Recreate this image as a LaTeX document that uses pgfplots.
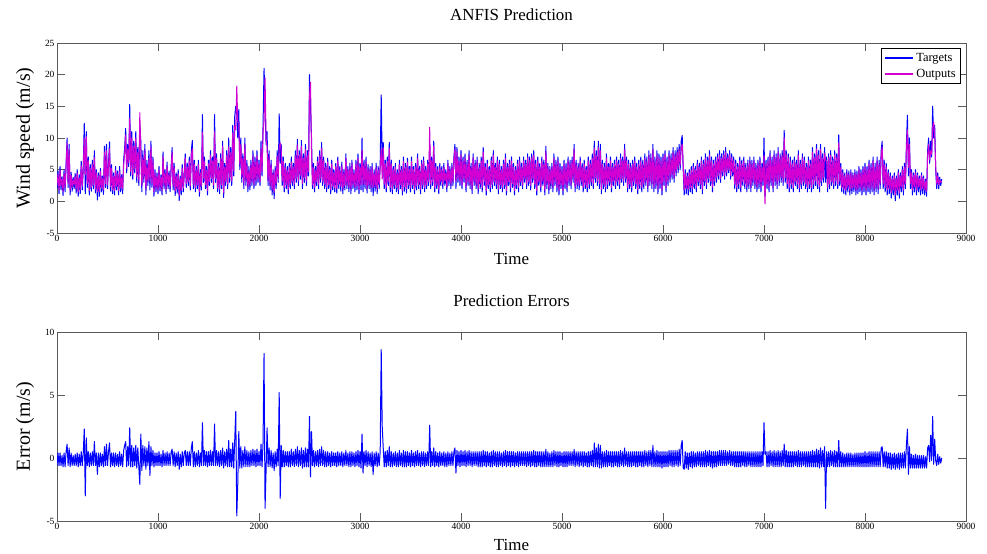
\documentclass[border=0pt]{standalone}
\usepackage{fontspec}
\setmainfont{Liberation Serif}
\usepackage{pgfplots}
\usepackage{pgfplotstable}
\pgfplotsset{compat=1.18}
\pgfplotstableread{
x T O E
0 2.0 2.6 -0.6
10 4.8 4.2 0.4
20 1.2 1.8 -0.6
30 5.5 4.9 0.4
40 1.8 2.4 -0.6
50 3.9 3.5 0.2
60 0.9 1.6 -0.7
70 5.0 4.4 0.4
80 1.5 2.2 -0.7
90 6.0 5.4 0.5
100 10.0 9.2 1.1
110 2.2 2.8 -0.6
120 9.0 8.2 0.8
130 1.0 1.7 -0.7
140 4.6 4.1 0.4
150 1.6 2.2 -0.6
160 3.8 3.4 0.2
170 2.0 2.6 -0.6
180 4.4 3.9 0.3
190 1.3 1.9 -0.6
200 5.0 4.5 0.4
210 0.8 1.5 -0.7
220 4.2 3.7 0.3
230 1.2 1.8 -0.6
240 6.3 5.6 0.5
250 1.8 2.4 -0.6
260 5.5 4.9 0.4
270 12.3 10.0 2.3
280 1.2 4.2 -3.0
290 11.0 10.2 1.6
300 2.2 2.8 -0.6
310 7.0 6.4 0.5
320 1.0 1.7 -0.7
330 5.8 5.2 0.4
340 1.6 2.2 -0.6
350 6.5 5.9 0.5
360 2.0 2.6 -0.6
370 8.0 6.9 1.3
380 1.3 1.9 -0.6
390 5.0 4.5 0.4
400 0.2 1.5 -1.3
410 4.5 4.0 0.4
420 0.8 1.5 -0.7
430 5.2 4.7 0.4
440 1.5 2.1 -0.6
450 4.0 3.6 0.3
460 1.1 1.8 -0.7
470 8.7 7.8 0.9
480 2.2 2.8 -0.6
490 9.0 8.0 1.1
500 2.0 2.6 -0.6
510 6.0 5.4 0.5
520 9.4 8.3 1.2
530 1.6 2.3 -0.7
540 5.8 5.2 0.4
550 1.2 1.8 -0.6
560 4.5 4.0 0.4
570 1.0 1.7 -0.7
580 5.5 4.9 0.4
590 1.8 2.4 -0.6
600 4.8 4.3 0.3
610 1.0 1.7 -0.7
620 5.5 4.8 0.5
630 1.5 2.1 -0.6
640 4.2 3.8 0.3
650 1.2 1.9 -0.7
660 6.5 5.8 0.6
670 8.5 7.5 1.0
680 11.5 10.4 1.3
690 4.5 5.2 -0.7
700 9.0 8.2 0.9
710 5.5 6.1 -0.6
720 15.3 13.1 2.4
730 4.0 4.7 -0.7
740 11.0 10.0 1.0
750 3.5 4.2 -0.7
760 9.5 8.7 0.8
770 4.5 5.1 -0.6
780 11.0 10.0 1.0
790 3.0 3.8 -0.8
800 8.5 7.7 0.8
810 2.5 3.2 -0.7
820 12.0 14.0 -2.1
830 9.5 7.6 1.9
840 1.5 2.5 -1.0
850 8.0 7.0 1.0
860 3.0 3.6 -0.6
870 9.0 8.1 0.9
880 1.0 1.9 -0.9
890 6.5 5.7 0.8
900 2.5 3.1 -0.6
910 8.0 6.8 1.3
920 1.8 3.2 -1.4
930 9.5 8.6 0.9
940 2.2 2.8 -0.6
950 7.0 6.4 0.6
960 0.8 1.5 -0.7
970 5.0 4.5 0.4
980 1.5 2.1 -0.6
990 4.5 4.0 0.4
1000 1.2 1.8 -0.6
1010 5.5 4.9 0.5
1020 1.6 2.2 -0.6
1030 4.2 3.8 0.3
1040 1.0 1.7 -0.7
1050 7.8 7.1 0.6
1060 2.0 2.6 -0.6
1070 5.0 4.5 0.4
1080 1.2 1.8 -0.6
1090 6.2 5.6 0.5
1100 2.0 2.6 -0.6
1110 4.8 4.3 0.4
1120 1.5 2.1 -0.6
1130 5.5 4.9 0.5
1140 8.5 7.8 0.7
1150 1.8 2.4 -0.6
1160 6.0 5.4 0.5
1170 0.9 1.6 -0.7
1180 4.5 4.0 0.4
1190 1.3 1.9 -0.6
1200 5.0 4.4 0.5
1210 0.1 0.9 -0.9
1220 4.0 3.6 0.3
1230 1.0 1.7 -0.7
1240 5.8 5.2 0.5
1250 1.5 2.1 -0.6
1260 4.5 4.0 0.4
1270 7.5 6.8 0.6
1280 2.2 2.8 -0.6
1290 6.0 5.4 0.5
1300 2.5 3.1 -0.6
1310 7.0 6.4 0.5
1320 1.8 2.4 -0.6
1330 8.0 7.2 0.8
1340 9.6 8.3 1.3
1350 2.0 2.7 -0.7
1360 6.5 5.9 0.5
1370 1.5 2.2 -0.7
1380 5.5 5.0 0.4
1390 2.0 2.6 -0.6
1400 6.5 5.8 0.6
1410 0.8 1.5 -0.7
1420 5.0 4.5 0.4
1430 1.8 2.4 -0.6
1440 13.7 10.9 2.8
1450 3.0 3.6 -0.6
1460 7.0 6.3 0.6
1470 2.0 2.6 -0.6
1480 5.5 4.9 0.5
1490 1.0 1.7 -0.7
1500 6.5 5.9 0.5
1510 2.5 3.1 -0.6
1520 8.0 7.3 0.6
1530 3.0 3.6 -0.6
1540 7.0 6.4 0.5
1550 2.0 2.6 -0.6
1560 13.7 11.0 2.7
1570 3.0 3.6 -0.6
1580 7.5 6.8 0.6
1590 1.5 2.1 -0.6
1600 6.0 5.4 0.5
1610 1.2 1.9 -0.7
1620 7.5 6.8 0.6
1630 2.0 2.6 -0.6
1640 9.5 8.7 0.8
1650 0.6 1.4 -0.8
1660 6.0 5.4 0.5
1670 2.5 3.1 -0.6
1680 8.0 7.2 0.7
1690 2.0 2.7 -0.7
1700 10.0 8.6 1.4
1710 3.0 3.7 -0.7
1720 8.5 7.7 0.7
1730 2.5 3.2 -0.7
1740 12.0 10.8 1.2
1750 4.0 4.8 -0.8
1760 13.5 12.0 1.5
1770 15.0 11.3 3.7
1780 13.6 18.2 -4.6
1790 10.0 12.5 -2.0
1800 14.5 12.4 2.1
1810 5.0 5.8 -0.8
1820 10.0 9.0 0.9
1830 3.0 3.8 -0.8
1840 7.5 6.8 0.6
1850 2.0 2.7 -0.7
1860 10.0 9.0 0.9
1870 2.5 3.2 -0.7
1880 6.5 5.8 0.6
1890 1.5 2.2 -0.7
1900 5.5 4.9 0.5
1910 1.8 2.5 -0.7
1920 6.5 5.8 0.6
1930 2.5 3.1 -0.6
1940 8.0 7.2 0.7
1950 2.0 2.6 -0.6
1960 7.0 6.3 0.6
1970 2.5 3.2 -0.7
1980 8.0 7.2 0.7
1990 3.0 3.6 -0.6
2000 6.5 5.9 0.5
2010 2.5 3.1 -0.6
2020 9.5 8.4 1.1
2030 4.0 4.7 -0.7
2040 12.0 10.8 1.2
2050 21.0 12.7 8.3
2060 15.5 19.5 -4.0
2070 9.0 10.0 -1.0
2080 11.0 8.6 2.4
2090 2.5 3.2 -0.7
2100 8.0 7.2 0.8
2110 1.8 2.5 -0.7
2120 6.5 5.8 0.6
2130 1.0 1.8 -0.8
2140 5.0 4.5 0.4
2150 0.4 1.4 -1.0
2160 5.5 4.9 0.5
2170 2.0 2.7 -0.7
2180 8.0 7.2 0.7
2190 3.0 3.6 -0.6
2200 13.8 8.6 5.2
2210 6.0 9.2 -3.2
2220 9.0 8.0 1.0
2230 2.5 3.2 -0.7
2240 7.0 6.3 0.6
2250 1.5 2.2 -0.7
2260 6.0 5.4 0.5
2270 2.0 2.6 -0.6
2280 5.5 4.9 0.5
2290 1.2 1.9 -0.7
2300 6.0 5.4 0.5
2310 2.0 2.7 -0.7
2320 7.0 6.2 0.7
2330 2.5 3.1 -0.6
2340 6.0 5.4 0.5
2350 2.0 2.7 -0.7
2360 8.0 7.2 0.7
2370 3.0 3.6 -0.6
2380 9.8 8.9 0.9
2390 2.5 3.2 -0.7
2400 8.0 7.3 0.6
2410 3.5 4.1 -0.6
2420 9.6 8.7 0.8
2430 2.0 2.8 -0.8
2440 7.5 6.8 0.6
2450 3.0 3.7 -0.7
2460 9.0 8.2 0.8
2470 2.5 3.2 -0.7
2480 8.0 7.2 0.7
2490 4.0 4.7 -0.7
2500 20.0 16.7 3.3
2510 15.0 18.8 -1.5
2520 10.0 8.0 2.1
2530 2.0 2.6 -0.6
2540 6.0 5.3 0.6
2550 1.5 2.2 -0.7
2560 5.5 4.9 0.5
2570 2.5 3.1 -0.6
2580 7.0 6.3 0.6
2590 2.0 2.7 -0.7
2600 8.0 7.2 0.7
2610 3.0 3.6 -0.6
2620 9.3 8.4 0.9
2630 2.5 3.1 -0.6
2640 7.0 6.4 0.6
2650 2.0 2.7 -0.7
2660 6.0 5.4 0.5
2670 1.5 2.2 -0.7
2680 6.8 6.2 0.5
2690 2.0 2.6 -0.6
2700 5.5 5.0 0.4
2710 1.2 1.9 -0.7
2720 6.5 5.9 0.5
2730 1.8 2.4 -0.6
2740 5.0 4.5 0.4
2750 1.5 2.1 -0.6
2760 6.0 5.5 0.4
2770 1.3 2.0 -0.7
2780 7.0 6.4 0.5
2790 2.0 2.6 -0.6
2800 5.5 5.0 0.4
2810 1.6 2.3 -0.6
2820 6.2 5.6 0.5
2830 1.2 1.9 -0.7
2840 5.0 4.5 0.4
2850 1.8 2.4 -0.6
2860 7.5 6.8 0.6
2870 2.0 2.6 -0.6
2880 5.5 5.0 0.4
2890 1.5 2.2 -0.7
2900 6.0 5.4 0.5
2910 1.2 1.9 -0.7
2920 6.5 5.9 0.5
2930 2.0 2.6 -0.6
2940 5.0 4.5 0.4
2950 1.5 2.2 -0.7
2960 6.5 5.9 0.5
2970 1.8 2.4 -0.6
2980 7.5 6.8 0.6
2990 1.2 1.9 -0.7
3000 6.0 5.4 0.5
3010 1.8 2.6 -0.8
3020 10.0 8.1 1.9
3030 1.5 2.7 -1.2
3040 6.5 5.9 0.5
3050 2.0 2.6 -0.6
3060 7.0 6.3 0.6
3070 1.3 2.0 -0.7
3080 5.8 5.2 0.5
3090 2.0 2.6 -0.6
3100 5.5 5.0 0.4
3110 1.5 2.2 -0.7
3120 6.0 5.4 0.5
3130 0.9 2.2 -1.3
3140 5.0 4.5 0.4
3150 1.6 2.3 -0.6
3160 6.0 5.4 0.5
3170 1.2 1.9 -0.7
3180 5.5 5.0 0.4
3190 2.0 2.6 -0.6
3200 6.0 5.4 0.5
3210 16.8 8.2 8.6
3220 6.0 3.5 2.5
3230 9.3 8.5 0.8
3240 2.0 2.7 -0.7
3250 6.5 5.9 0.5
3260 1.5 2.2 -0.7
3270 7.0 6.3 0.6
3280 2.5 3.1 -0.6
3290 9.3 8.4 0.9
3300 1.5 2.2 -0.7
3310 6.5 5.9 0.5
3320 1.2 1.9 -0.7
3330 5.5 5.0 0.4
3340 2.0 2.6 -0.6
3350 6.0 5.4 0.5
3360 1.5 2.2 -0.7
3370 5.0 4.5 0.4
3380 1.2 1.9 -0.7
3390 6.5 5.8 0.6
3400 2.0 2.6 -0.6
3410 5.5 5.0 0.4
3420 1.0 1.7 -0.7
3430 7.0 6.3 0.6
3440 1.6 2.3 -0.7
3450 6.0 5.4 0.5
3460 1.3 2.0 -0.7
3470 6.8 6.2 0.5
3480 2.0 2.6 -0.6
3490 5.5 5.0 0.4
3500 1.5 2.2 -0.7
3510 7.0 6.3 0.6
3520 2.0 2.6 -0.6
3530 5.5 5.0 0.4
3540 1.2 1.9 -0.7
3550 6.0 5.4 0.5
3560 1.8 2.4 -0.6
3570 7.5 6.8 0.6
3580 2.0 2.6 -0.6
3590 5.5 5.0 0.4
3600 1.2 1.9 -0.7
3610 6.5 5.9 0.5
3620 2.0 2.6 -0.6
3630 7.0 6.4 0.5
3640 1.5 2.2 -0.7
3650 5.5 5.0 0.4
3660 2.0 2.6 -0.6
3670 6.5 5.9 0.5
3680 2.5 3.1 -0.6
3690 9.0 11.7 2.6
3700 2.0 2.7 -0.7
3710 7.0 6.4 0.5
3720 2.5 3.1 -0.6
3730 9.5 8.7 0.8
3740 1.5 2.2 -0.7
3750 6.0 5.4 0.5
3760 2.0 2.6 -0.6
3770 5.5 5.0 0.4
3780 1.2 1.9 -0.7
3790 6.0 5.4 0.5
3800 2.5 3.1 -0.6
3810 5.5 5.0 0.4
3820 2.0 2.6 -0.6
3830 6.0 5.4 0.5
3840 2.5 3.2 -0.7
3850 5.0 4.5 0.4
3860 1.5 2.2 -0.7
3870 6.5 5.9 0.5
3880 2.5 3.1 -0.6
3890 5.5 5.0 0.4
3900 2.0 2.6 -0.6
3910 6.0 5.4 0.5
3920 2.5 3.1 -0.6
3930 7.0 6.4 0.5
3940 9.0 8.3 0.8
3950 2.0 3.2 -1.2
3960 8.5 7.8 0.6
3970 3.0 3.6 -0.6
3980 7.0 6.4 0.5
3990 2.5 3.2 -0.7
4000 8.0 7.3 0.6
4010 2.0 2.6 -0.6
4020 7.0 6.4 0.5
4030 3.0 3.6 -0.6
4040 7.5 6.8 0.6
4050 1.5 2.2 -0.7
4060 6.5 5.9 0.5
4070 2.5 3.1 -0.6
4080 8.0 7.3 0.6
4090 2.0 2.6 -0.6
4100 6.0 5.4 0.5
4110 1.2 1.9 -0.7
4120 7.5 6.9 0.5
4130 2.5 3.1 -0.6
4140 6.5 5.9 0.5
4150 2.0 2.6 -0.6
4160 7.0 6.4 0.5
4170 1.2 1.9 -0.7
4180 6.0 5.4 0.5
4190 2.0 2.7 -0.7
4200 7.0 6.4 0.5
4210 1.5 2.2 -0.7
4220 8.5 7.8 0.6
4230 2.5 3.1 -0.6
4240 6.0 5.4 0.5
4250 1.0 1.7 -0.7
4260 6.5 5.9 0.5
4270 2.0 2.6 -0.6
4280 5.5 5.0 0.4
4290 1.5 2.2 -0.7
4300 7.0 6.4 0.5
4310 2.0 2.7 -0.7
4320 8.0 7.3 0.6
4330 2.5 3.1 -0.6
4340 6.0 5.4 0.5
4350 2.0 2.7 -0.7
4360 7.0 6.4 0.5
4370 1.2 1.9 -0.7
4380 6.5 5.9 0.5
4390 2.0 2.6 -0.6
4400 5.5 5.0 0.4
4410 1.5 2.2 -0.7
4420 6.5 5.9 0.5
4430 2.0 2.6 -0.6
4440 7.5 6.8 0.6
4450 1.0 1.7 -0.7
4460 6.0 5.4 0.5
4470 2.5 3.1 -0.6
4480 6.5 5.9 0.5
4490 1.5 2.2 -0.7
4500 7.0 6.4 0.5
4510 2.2 2.8 -0.6
4520 6.0 5.4 0.5
4530 1.0 1.7 -0.7
4540 5.5 5.0 0.4
4550 2.0 2.6 -0.6
4560 6.5 5.9 0.5
4570 1.5 2.2 -0.7
4580 7.0 6.4 0.5
4590 2.5 3.1 -0.6
4600 6.0 5.4 0.5
4610 2.0 2.6 -0.6
4620 7.0 6.4 0.5
4630 3.0 3.6 -0.6
4640 6.5 5.9 0.5
4650 2.0 2.7 -0.7
4660 7.5 6.9 0.5
4670 2.5 3.1 -0.6
4680 7.0 6.4 0.5
4690 1.8 2.5 -0.7
4700 7.5 6.9 0.5
4710 3.0 3.6 -0.6
4720 8.0 7.3 0.6
4730 2.0 2.7 -0.7
4740 6.5 5.9 0.5
4750 1.0 1.7 -0.7
4760 7.0 6.4 0.5
4770 2.5 3.1 -0.6
4780 6.0 5.4 0.5
4790 1.5 2.2 -0.7
4800 7.0 6.4 0.5
4810 2.5 3.2 -0.7
4820 6.5 5.9 0.5
4830 1.0 1.7 -0.7
4840 8.7 7.9 0.7
4850 2.0 2.7 -0.7
4860 6.0 5.4 0.5
4870 1.2 1.9 -0.7
4880 5.5 5.0 0.4
4890 2.0 2.7 -0.7
4900 6.0 5.4 0.5
4910 1.5 2.2 -0.7
4920 7.5 6.8 0.6
4930 2.5 3.1 -0.6
4940 6.5 5.9 0.5
4950 1.5 2.2 -0.7
4960 7.0 6.4 0.5
4970 1.0 1.7 -0.7
4980 6.0 5.4 0.5
4990 2.0 2.6 -0.6
5000 5.5 5.0 0.4
5010 1.0 1.7 -0.7
5020 6.5 5.9 0.5
5030 2.0 2.7 -0.7
5040 6.0 5.4 0.5
5050 1.5 2.2 -0.7
5060 7.0 6.4 0.5
5070 2.5 3.1 -0.6
5080 6.5 5.9 0.5
5090 2.0 2.6 -0.6
5100 7.0 6.4 0.5
5110 3.0 3.6 -0.6
5120 9.0 8.3 0.7
5130 1.5 2.2 -0.7
5140 6.5 5.9 0.5
5150 2.0 2.6 -0.6
5160 6.0 5.4 0.5
5170 1.8 2.5 -0.7
5180 7.0 6.4 0.5
5190 2.5 3.1 -0.6
5200 6.0 5.4 0.5
5210 1.5 2.2 -0.7
5220 6.5 5.9 0.5
5230 2.0 2.6 -0.6
5240 5.5 5.0 0.4
5250 1.5 2.2 -0.7
5260 7.0 6.4 0.5
5270 2.0 2.7 -0.7
5280 6.5 5.9 0.5
5290 2.5 3.1 -0.6
5300 7.5 6.8 0.6
5310 2.0 2.7 -0.7
5320 9.5 8.4 1.2
5330 3.0 3.7 -0.7
5340 8.0 7.2 0.8
5350 2.5 3.2 -0.7
5360 9.5 8.5 1.1
5370 2.0 2.8 -0.8
5380 9.0 8.0 1.0
5390 1.2 1.9 -0.8
5400 6.5 5.9 0.5
5410 2.0 2.7 -0.7
5420 6.0 5.4 0.5
5430 1.5 2.2 -0.7
5440 7.5 6.8 0.6
5450 2.0 2.7 -0.7
5460 6.0 5.4 0.5
5470 2.5 3.1 -0.6
5480 7.0 6.4 0.5
5490 1.5 2.2 -0.7
5500 6.0 5.4 0.5
5510 2.5 3.2 -0.7
5520 6.5 5.9 0.5
5530 2.0 2.6 -0.6
5540 7.0 6.4 0.5
5550 2.5 3.2 -0.7
5560 6.5 5.9 0.5
5570 2.0 2.7 -0.7
5580 7.5 6.8 0.6
5590 3.0 3.6 -0.6
5600 7.0 6.4 0.5
5610 2.5 3.2 -0.7
5620 9.0 8.2 0.8
5630 3.0 3.6 -0.6
5640 7.0 6.4 0.5
5650 1.5 2.2 -0.7
5660 6.5 5.9 0.5
5670 2.0 2.7 -0.7
5680 6.0 5.4 0.5
5690 1.5 2.2 -0.7
5700 6.5 5.9 0.5
5710 2.5 3.1 -0.6
5720 7.0 6.4 0.5
5730 2.0 2.7 -0.7
5740 6.0 5.4 0.5
5750 1.2 1.9 -0.7
5760 6.5 5.9 0.5
5770 2.0 2.6 -0.6
5780 7.0 6.4 0.5
5790 1.5 2.2 -0.7
5800 6.5 5.9 0.5
5810 2.0 2.7 -0.7
5820 7.5 6.8 0.6
5830 2.5 3.1 -0.6
5840 7.0 6.4 0.5
5850 1.5 2.2 -0.7
5860 8.0 7.3 0.6
5870 2.5 3.1 -0.6
5880 7.5 6.8 0.6
5890 2.0 2.7 -0.7
5900 9.0 8.2 1.0
5910 1.5 2.2 -0.7
5920 7.0 6.4 0.5
5930 2.0 2.7 -0.7
5940 8.0 7.3 0.6
5950 1.2 1.9 -0.7
5960 7.5 6.9 0.5
5970 2.0 2.7 -0.7
5980 7.0 6.4 0.5
5990 1.0 1.7 -0.8
6000 7.5 6.9 0.5
6010 2.5 3.2 -0.7
6020 8.0 7.4 0.5
6030 1.5 2.2 -0.7
6040 7.0 6.4 0.5
6050 2.5 3.2 -0.7
6060 8.0 7.3 0.6
6070 3.0 3.6 -0.6
6080 7.5 6.8 0.6
6090 3.5 4.2 -0.7
6100 8.5 7.8 0.6
6110 3.0 3.7 -0.7
6120 8.0 7.3 0.6
6130 4.0 4.6 -0.6
6140 8.5 7.8 0.6
6150 4.5 5.2 -0.7
6160 9.0 8.2 0.7
6170 5.0 5.7 -0.6
6180 9.5 8.5 1.0
6190 10.4 9.0 1.4
6200 5.0 5.8 -0.8
6210 1.0 1.8 -0.9
6220 5.0 4.4 0.5
6230 1.2 2.0 -0.8
6240 4.5 4.0 0.4
6250 1.0 1.9 -0.9
6260 5.0 4.5 0.4
6270 1.5 2.2 -0.7
6280 5.5 4.9 0.5
6290 1.2 2.0 -0.8
6300 6.0 5.4 0.5
6310 2.0 2.7 -0.7
6320 5.5 5.0 0.4
6330 1.5 2.2 -0.7
6340 6.5 5.9 0.5
6350 2.5 3.1 -0.6
6360 6.0 5.4 0.5
6370 2.0 2.7 -0.7
6380 7.0 6.4 0.5
6390 1.2 1.9 -0.7
6400 6.5 5.9 0.5
6410 2.5 3.2 -0.7
6420 7.5 6.8 0.6
6430 2.0 2.7 -0.7
6440 7.0 6.4 0.5
6450 3.0 3.6 -0.6
6460 8.0 7.3 0.6
6470 2.5 3.2 -0.7
6480 7.0 6.4 0.5
6490 1.5 2.3 -0.8
6500 6.5 5.9 0.5
6510 2.5 3.2 -0.7
6520 7.0 6.4 0.5
6530 3.0 3.7 -0.7
6540 7.5 6.9 0.5
6550 3.5 4.1 -0.6
6560 8.0 7.3 0.6
6570 3.0 3.6 -0.6
6580 7.5 6.8 0.6
6590 4.0 4.6 -0.6
6600 8.0 7.3 0.6
6610 3.5 4.1 -0.6
6620 8.5 7.8 0.6
6630 4.0 4.6 -0.6
6640 7.5 6.9 0.5
6650 4.5 5.0 -0.5
6660 8.0 7.4 0.6
6670 3.5 4.1 -0.6
6680 7.5 6.9 0.5
6690 4.0 4.6 -0.6
6700 7.0 6.4 0.5
6710 2.0 2.7 -0.7
6720 6.5 5.9 0.5
6730 1.5 2.2 -0.7
6740 6.0 5.4 0.5
6750 2.0 2.7 -0.7
6760 7.0 6.4 0.5
6770 1.5 2.2 -0.7
6780 6.5 5.9 0.5
6790 2.5 3.1 -0.6
6800 7.0 6.4 0.5
6810 2.0 2.7 -0.7
6820 6.0 5.4 0.5
6830 1.5 2.2 -0.7
6840 6.5 5.9 0.5
6850 2.0 2.6 -0.6
6860 7.0 6.4 0.5
6870 1.5 2.2 -0.7
6880 6.5 5.9 0.5
6890 2.5 3.2 -0.7
6900 7.0 6.4 0.5
6910 2.0 2.7 -0.7
6920 6.0 5.4 0.5
6930 1.5 2.2 -0.7
6940 6.5 5.9 0.5
6950 2.0 2.7 -0.7
6960 7.0 6.4 0.5
6970 1.5 2.2 -0.7
6980 6.0 5.4 0.5
6990 2.5 3.1 -0.6
7000 10.0 7.2 2.8
7010 0.8 -0.4 0.3
7020 6.5 5.9 0.5
7030 2.0 2.7 -0.7
7040 7.0 6.4 0.5
7050 1.5 2.2 -0.7
7060 8.0 7.3 0.6
7070 2.5 3.1 -0.6
7080 7.0 6.4 0.5
7090 1.5 2.2 -0.7
7100 8.0 7.3 0.6
7110 2.5 3.2 -0.7
7120 7.5 6.9 0.5
7130 2.0 2.7 -0.7
7140 8.5 7.8 0.6
7150 2.5 3.2 -0.7
7160 7.5 6.9 0.5
7170 3.0 3.7 -0.7
7180 8.0 7.3 0.6
7190 2.5 3.1 -0.6
7200 11.2 10.1 1.1
7210 3.0 3.7 -0.7
7220 8.0 7.4 0.6
7230 2.0 2.7 -0.7
7240 7.5 6.9 0.5
7250 1.5 2.2 -0.7
7260 7.0 6.4 0.5
7270 2.0 2.7 -0.7
7280 6.5 5.9 0.5
7290 1.5 2.2 -0.7
7300 7.0 6.4 0.5
7310 2.5 3.1 -0.6
7320 6.5 5.9 0.5
7330 2.0 2.7 -0.7
7340 8.0 7.3 0.6
7350 1.5 2.2 -0.7
7360 6.5 5.9 0.5
7370 2.0 2.7 -0.7
7380 7.5 6.9 0.5
7390 2.5 3.1 -0.6
7400 7.0 6.4 0.5
7410 2.0 2.7 -0.7
7420 6.0 5.4 0.5
7430 1.5 2.2 -0.7
7440 7.0 6.4 0.5
7450 2.0 2.7 -0.7
7460 6.5 5.9 0.5
7470 1.5 2.2 -0.7
7480 8.5 7.8 0.6
7490 2.0 2.7 -0.7
7500 7.5 6.9 0.5
7510 2.5 3.2 -0.7
7520 9.0 8.3 0.7
7530 2.0 2.7 -0.7
7540 8.0 7.3 0.6
7550 1.5 2.3 -0.8
7560 9.0 8.2 0.8
7570 2.5 3.2 -0.7
7580 7.5 6.8 0.6
7590 3.0 3.7 -0.7
7600 8.5 7.6 0.9
7610 3.0 6.5 -4.0
7620 7.0 6.4 0.5
7630 1.5 2.2 -0.7
7640 7.5 6.9 0.5
7650 2.0 2.7 -0.7
7660 8.0 7.3 0.6
7670 2.5 3.1 -0.6
7680 7.0 6.4 0.5
7690 2.0 2.7 -0.7
7700 8.0 7.3 0.6
7710 2.5 3.2 -0.7
7720 7.5 6.9 0.5
7730 2.0 2.7 -0.7
7740 10.5 9.2 1.4
7750 2.5 3.2 -0.7
7760 6.0 5.4 0.5
7770 1.5 2.2 -0.7
7780 5.0 4.5 0.4
7790 1.2 1.9 -0.7
7800 4.5 4.1 0.3
7810 1.0 1.7 -0.7
7820 5.0 4.5 0.4
7830 1.5 2.2 -0.7
7840 4.8 4.3 0.4
7850 1.0 1.7 -0.7
7860 5.0 4.5 0.4
7870 1.2 1.9 -0.7
7880 4.5 4.1 0.3
7890 1.5 2.2 -0.7
7900 5.0 4.5 0.4
7910 1.0 1.7 -0.7
7920 4.8 4.3 0.4
7930 1.2 1.9 -0.7
7940 5.5 5.0 0.4
7950 1.5 2.2 -0.7
7960 5.0 4.5 0.4
7970 1.0 1.7 -0.7
7980 5.5 5.0 0.4
7990 1.5 2.2 -0.7
8000 6.0 5.4 0.5
8010 1.0 1.7 -0.7
8020 5.5 5.0 0.4
8030 1.5 2.2 -0.7
8040 6.5 5.9 0.5
8050 1.2 1.9 -0.7
8060 6.0 5.4 0.5
8070 1.5 2.2 -0.7
8080 7.0 6.4 0.5
8090 1.0 1.7 -0.7
8100 6.0 5.4 0.5
8110 1.5 2.2 -0.7
8120 7.0 6.4 0.5
8130 1.2 1.9 -0.7
8140 6.5 5.9 0.5
8150 2.0 2.7 -0.7
8160 8.0 7.2 0.8
8170 9.5 8.6 0.9
8180 2.0 2.7 -0.7
8190 6.5 5.9 0.5
8200 1.5 2.2 -0.7
8210 6.0 5.4 0.5
8220 1.0 1.8 -0.8
8230 5.0 4.5 0.4
8240 1.2 2.0 -0.8
8250 4.5 4.0 0.4
8260 0.5 1.4 -0.9
8270 4.0 3.6 0.3
8280 1.0 1.8 -0.8
8290 4.5 4.0 0.4
8300 0.1 1.0 -0.9
8310 4.0 3.6 0.3
8320 1.0 1.8 -0.8
8330 5.0 4.5 0.4
8340 0.5 1.3 -0.9
8350 4.5 4.0 0.4
8360 1.5 2.3 -0.8
8370 5.5 5.0 0.4
8380 1.0 1.8 -0.8
8390 6.0 5.4 0.5
8400 2.0 2.8 -0.8
8410 9.0 8.0 1.0
8420 13.6 11.3 2.3
8430 4.0 5.3 -1.3
8440 10.0 9.0 0.9
8450 2.0 2.8 -0.8
8460 5.0 4.5 0.3
8470 1.0 1.8 -0.8
8480 4.5 4.1 0.2
8490 1.5 2.3 -0.8
8500 5.0 4.5 0.3
8510 1.0 1.8 -0.8
8520 4.5 4.1 0.2
8530 1.5 2.3 -0.8
8540 4.0 3.6 0.2
8550 1.0 1.8 -0.8
8560 4.5 4.1 0.2
8570 1.2 2.0 -0.8
8580 4.0 3.6 0.2
8590 1.0 1.8 -0.8
8600 3.5 3.2 0.1
8610 0.8 1.6 -0.8
8620 8.0 7.2 0.8
8630 10.0 9.0 1.0
8640 6.0 6.5 -0.3
8650 9.5 8.0 1.8
8660 7.0 7.4 -0.2
8670 15.0 11.7 3.3
8680 10.0 12.5 -0.5
8690 12.0 10.5 1.5
8700 5.0 5.5 -0.2
8710 2.0 2.7 -0.6
8720 4.5 4.0 0.3
8730 2.0 2.6 -0.5
8740 3.8 3.4 0.1
8750 2.5 3.0 -0.4
8760 3.5 3.2 0.0
}\data
\definecolor{axgray}{RGB}{90,90,90}
\definecolor{outcol}{RGB}{210,0,210}
\definecolor{tgtcol}{RGB}{0,0,255}
\pgfplotsset{
  every axis/.append style={
    scale only axis,
    width=909bp,
    xmin=0, xmax=9000,
    xtick={0,1000,...,9000},
    scaled ticks=false,
    /pgf/number format/1000 sep={},
    /pgf/number format/assume math mode=true,
    tick align=inside,
    major tick length=8bp,
    axis line style={draw=axgray, line width=0.8bp},
    tick style={draw=axgray, line width=0.8bp},
    tick label style={font=\fontsize{9.5}{11}\selectfont, text=black},
    xticklabel style={yshift=1bp},
    yticklabel style={xshift=1bp},
    title style={font=\fontsize{17}{20}\selectfont, at={(axis description cs:0.5,1)}, anchor=base},
    xlabel style={font=\fontsize{17}{20}\selectfont, at={(axis description cs:0.5,0)}, anchor=base},
    ylabel style={font=\fontsize{20}{24}\selectfont, at={(axis description cs:-0.035,0.5)}, anchor=center},
    xlabel={Time},
  },
  tline/.style={color=tgtcol, line width=1bp, mark=none, forget plot, line join=round},
  oline/.style={color=outcol, line width=1bp, mark=none, forget plot, line join=round},
}
\begin{document}
\begin{tikzpicture}
\fill[white] (0,0) rectangle (987bp,554bp);
\useasboundingbox (0,0) rectangle (987bp,554bp);
\begin{axis}[
  at={(57bp,321bp)}, anchor=south west,
  height=190bp,
  ymin=-5, ymax=25, ytick={-5,0,...,25},
  title={ANFIS Prediction},
  title style={yshift=17bp},
  xlabel style={yshift=-32bp},
  ylabel={Wind speed (m/s)},
  legend cell align=left,
  legend style={at={(axis description cs:0.9945,0.974)}, anchor=north east,
    draw=black, line width=0.6bp, fill=white,
    font=\fontsize{12.5}{14}\selectfont, inner xsep=3bp, inner ysep=3bp, row sep=2bp},
  legend image code/.code={\draw[#1] (0bp,0bp) -- (28bp,0bp);},
]
\addplot[tline] table[x=x, y=T] {\data};
\addplot[oline] table[x=x, y=O] {\data};
\addlegendimage{color=tgtcol, line width=1.6bp}
\addlegendentry{Targets}
\addlegendimage{color=outcol, line width=1.6bp}
\addlegendentry{Outputs}
\end{axis}
\begin{axis}[
  at={(57bp,33bp)}, anchor=south west,
  height=189bp,
  ymin=-5, ymax=10, ytick={-5,0,5,10},
  title={Prediction Errors},
  title style={yshift=20bp},
  xlabel style={yshift=-29bp},
  ylabel={Error (m/s)},
]
\addplot[tline] table[x=x, y=E] {\data};
\end{axis}
\end{tikzpicture}
\end{document}
